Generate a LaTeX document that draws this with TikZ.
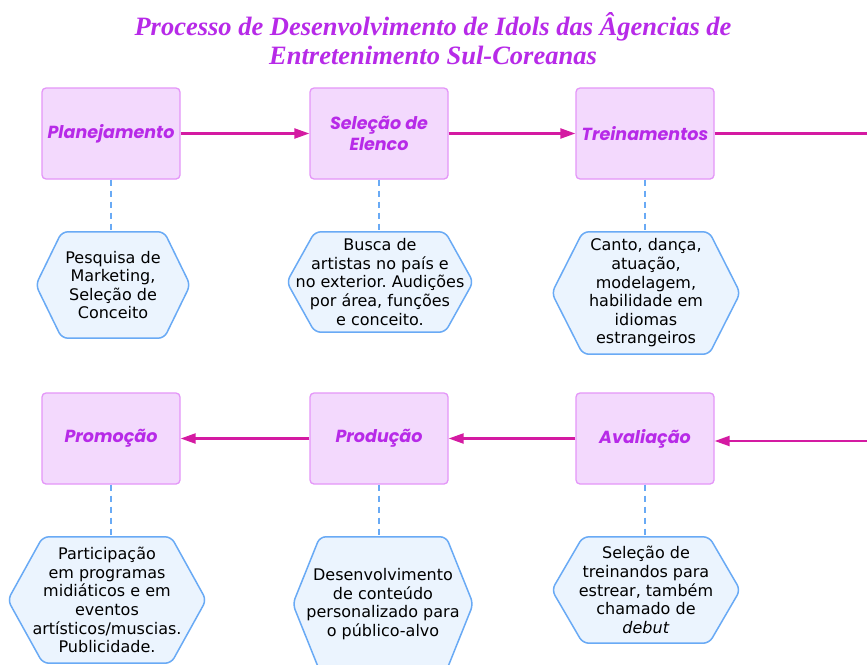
\documentclass[tikz,border=0pt]{standalone}
\usepackage{fontspec}
\setmainfont{Liberation Serif}
\newfontfamily\hexfont{DejaVu Sans}
\newfontfamily\stagefont{Poppins}
\usetikzlibrary{arrows.meta,backgrounds}
\frenchspacing

\definecolor{titleviolet}{RGB}{183,42,232}
\definecolor{stagefill}{RGB}{243,217,253}
\definecolor{stageline}{RGB}{228,150,248}
\definecolor{flowcol}{RGB}{212,26,162}
\definecolor{linkblue}{RGB}{105,170,245}
\definecolor{hexfill}{RGB}{235,244,254}

\begin{document}
\begin{tikzpicture}[
        x=1pt, y=-1pt,
        stage/.style={draw=stageline, fill=stagefill, line width=1.3pt, rounded corners=4pt,
            minimum width=138pt, minimum height=91pt, align=center, text=titleviolet,
            font=\stagefont\bfseries\itshape\fontsize{17.5}{20.5}\selectfont},
        desc/.style={align=center, inner sep=0pt, font=\hexfont\fontsize{16}{18.6}\selectfont},
        flow/.style={-{Triangle[length=15pt,width=10pt]}, draw=flowcol, line width=2.2pt},
        link/.style={draw=linkblue, line width=1.8pt, dash pattern=on 6pt off 5pt},
        hexline/.style={draw=linkblue, fill=hexfill, line width=1.5pt, rounded corners=6pt},
    ]
    \useasboundingbox (0,0) rectangle (867,664);
    \clip (0,0) rectangle (867,664);

    \node[align=center, text=titleviolet, font=\bfseries\itshape\fontsize{26.5}{29}\selectfont]
        (title) at (433,39) {Processo de Desenvolvimento de Idols das Âgencias de\\Entretenimento Sul-Coreanas};

    % etapas
    \node[stage] (plan) at (111,133.5) {Planejamento};
    \node[stage] (selecao) at (379,133.5) {Seleção de\\Elenco};
    \node[stage] (treino) at (645,133.5) {Treinamentos};
    \node[stage] (avalia) at (645,438.5) {Avaliação};
    \node[stage] (producao) at (379,438.5) {Produção};
    \node[stage] (promocao) at (111,438.5) {Promoção};
    \coordinate (outR) at (867,133.5);
    \coordinate (inR) at (867,441);

    % descricoes
    \node[desc, minimum width=154pt, minimum height=106pt] (dplan) at (113,285) {Pesquisa de\\Marketing,\\Seleção de\\Conceito};
    \node[desc, minimum width=186pt, minimum height=100pt] (dsel) at (380,282) {Busca de\\artistas no país e\\no exterior. Audições\\por área, funções\\e conceito.};
    \node[desc, minimum width=188pt, minimum height=122pt] (dtreino) at (646,293) {Canto, dança,\\atuação,\\modelagem,\\habilidade em\\idiomas\\estrangeiros};
    \node[desc, minimum width=188pt, minimum height=106pt] (daval) at (646,590) {Seleção de\\treinandos para\\estrear, também\\chamado de\\\textit{debut}};
    \node[desc, minimum width=180pt, minimum height=134pt] (dprod) at (383,604) {Desenvolvimento\\de conteúdo\\personalizado para\\o público-alvo};
    \node[desc, minimum width=198pt, minimum height=126pt] (dprom) at (107,600) {Participação\\em programas\\midiáticos e em\\eventos\\artísticos/muscias.\\Publicidade.};

    \begin{scope}[on background layer]
        \fill[white] (0,0) rectangle (867,664);
        \clip (0,0) rectangle (867,664);
        \foreach \h/\d in {dplan/26, dsel/28, dtreino/31, daval/31, dprod/27, dprom/35}
            \draw[hexline] (\h.west) -- ([xshift=\d pt]\h.north west) -- ([xshift=-\d pt]\h.north east)
                -- (\h.east) -- ([xshift=-\d pt]\h.south east) -- ([xshift=\d pt]\h.south west) -- cycle;
    \end{scope}

    % fluxo
    \draw[flow] (plan) -- (selecao);
    \draw[flow] (selecao) -- (treino);
    \draw[flow, -] (treino) -- (outR);
    \draw[flow] (inR) -- (inR -| avalia.east);
    \draw[flow] (avalia) -- (producao);
    \draw[flow] (producao) -- (promocao);

    \foreach \s/\d in {plan/dplan, selecao/dsel, treino/dtreino, avalia/daval, producao/dprod, promocao/dprom}
        \draw[link] (\s.south) -- (\s.south |- \d.north);
\end{tikzpicture}
\end{document}
